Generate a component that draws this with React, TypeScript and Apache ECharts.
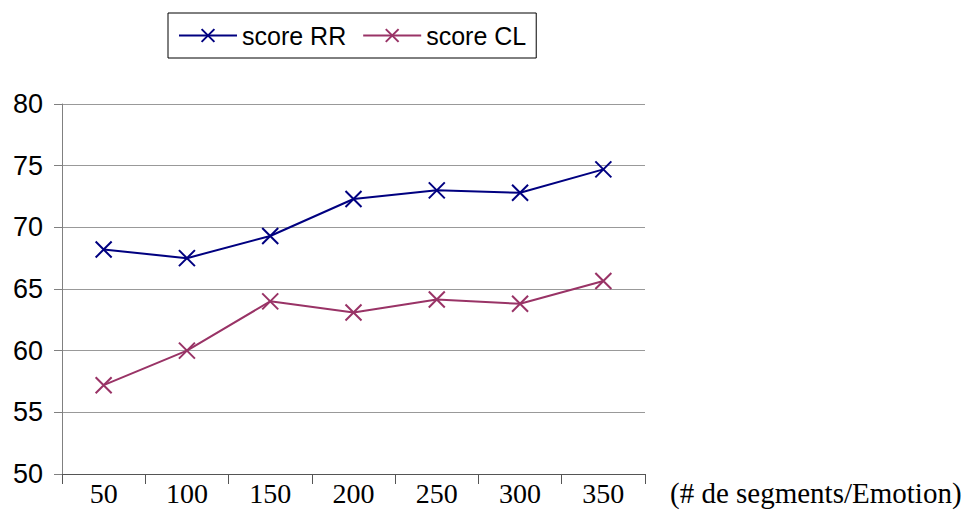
import React, { useEffect, useRef } from "react";
import * as echarts from "echarts";

const categories = ["50", "100", "150", "200", "250", "300", "350"];
const scoreRR = [68.2, 67.5, 69.3, 72.3, 73.0, 72.8, 74.7];
const scoreCL = [57.2, 60.0, 64.0, 63.1, 64.15, 63.8, 65.65];
const xAxisName = "(# de segments/Emotion)";

const CROSS = "path://M0,0L10,10M10,0L0,10";

export default function App() {
  const ref = useRef<HTMLDivElement>(null);
  useEffect(() => {
    if (!ref.current) return;
    const chart = echarts.init(ref.current, null, { renderer: "svg" });
    const mk = (name: string, data: number[], color: string) => ({
      name,
      type: "line",
      data,
      symbol: CROSS,
      symbolSize: 16,
      showSymbol: true,
      lineStyle: { color, width: 2 },
      itemStyle: { color, borderColor: color, borderWidth: 2 },
      emphasis: { disabled: true },
    });
    chart.setOption({
      animation: false,
      backgroundColor: "#ffffff",
      legend: {
        left: 168,
        top: 13,
        padding: [10, 10, 10, 10],
        itemWidth: 58,
        itemHeight: 16,
        itemGap: 16,
        borderColor: "#000000",
        borderWidth: 1,
        textStyle: { fontFamily: "Liberation Sans", fontSize: 25, color: "#000" },
        data: ["score RR", "score CL"],
      },
      grid: { left: 62, right: 334, top: 104, bottom: 38, containLabel: false },
      xAxis: {
        type: "category",
        data: categories,
        boundaryGap: true,
        name: xAxisName,
        nameLocation: "end",
        nameGap: 25,
        nameTextStyle: {
          fontFamily: "Liberation Serif",
          fontSize: 29,
          color: "#000",
          verticalAlign: "top",
          padding: [4, 0, 0, 0],
        },
        axisLine: { lineStyle: { color: "#555555", width: 1 } },
        axisTick: { show: true, length: 10, alignWithLabel: false, lineStyle: { color: "#555555" } },
        axisLabel: { fontFamily: "Liberation Serif", fontSize: 28, color: "#000", margin: 5, interval: 0 },
        splitLine: { show: false },
      },
      yAxis: {
        type: "value",
        min: 50,
        max: 80,
        interval: 5,
        axisLine: { show: true, lineStyle: { color: "#808080", width: 1 } },
        axisTick: { show: true, length: 8, lineStyle: { color: "#808080" } },
        axisLabel: { fontFamily: "Liberation Sans", fontSize: 27, color: "#000", margin: 19 },
        splitLine: { show: true, lineStyle: { color: "#999999", width: 1 } },
      },
      series: [mk("score RR", scoreRR, "#000080"), mk("score CL", scoreCL, "#993366")],
    });
    return () => chart.dispose();
  }, []);
  return <div ref={ref} style={{ width: 979, height: 512, position: "absolute", left: 0, top: 0 }} />;
}
